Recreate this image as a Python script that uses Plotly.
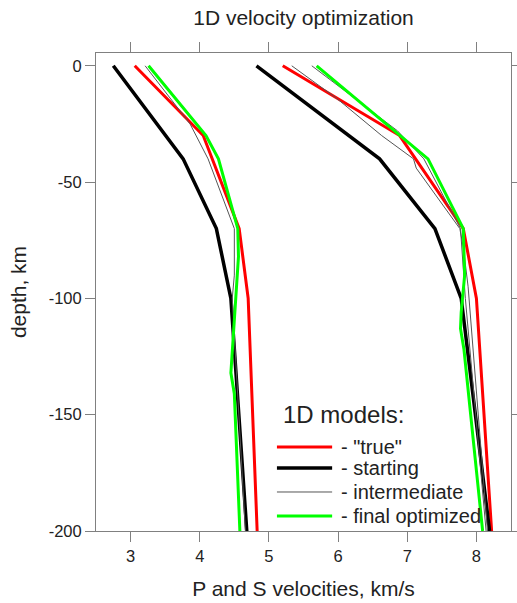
import plotly.graph_objects as go

# ---- data (depth in km, velocities in km/s) ----
true_depth = [0, -30, -70, -100, -200]
true_vs = [3.06, 4.05, 4.57, 4.70, 4.83]
true_vp = [5.20, 6.89, 7.81, 8.00, 8.22]

start_depth = [0, -40, -70, -100, -200]
start_vs = [2.75, 3.76, 4.24, 4.45, 4.68]
start_vp = [4.82, 6.60, 7.40, 7.78, 8.19]

inter_s_depth = [0, -25, -40, -47, -65, -70, -90, -100, -200]
inter_vs = [3.21, 3.86, 4.12, 4.21, 4.44, 4.50, 4.50, 4.47, 4.66]
inter_pa_depth = [0, -14, -30, -40, -44, -70, -78, -95, -200]
inter_vpa = [5.33, 5.98, 6.63, 7.09, 7.13, 7.76, 7.81, 7.88, 8.16]
inter_pb_depth = [0, -28, -40, -70, -100, -200]
inter_vpb = [5.62, 6.86, 7.24, 7.77, 7.84, 8.14]

final_s_depth = [0, -30, -40, -70, -82, -101, -121, -132, -141, -200]
final_vs = [3.26, 4.09, 4.27, 4.55, 4.56, 4.52, 4.48, 4.45, 4.50, 4.58]
final_p_depth = [0, -40, -70, -90, -106, -113, -122, -200]
final_vp = [5.69, 7.30, 7.81, 7.83, 7.78, 7.77, 7.82, 8.09]

x_ticks = [3, 4, 5, 6, 7, 8]
y_ticks = [0, -50, -100, -150, -200]
y_tick_text = ["0", "-50", "-100", "-150", "-200"]

legend_title = "1D models:"
legend_labels = ['- "true"', "- starting", "- intermediate", "- final optimized"]
legend_colors = ["#ff0000", "#000000", "#555555", "#00ff00"]
legend_widths = [3, 3.5, 1, 3]

FONT = "Arial, Liberation Sans, sans-serif"
TXT = "#222222"


def join(v1, d1, v2, d2):
    return v1 + [None] + v2, d1 + [None] + d2


fig = go.Figure()

x, y = join(true_vs, true_depth, true_vp, true_depth)
fig.add_trace(go.Scatter(x=x, y=y, mode="lines", name=legend_labels[0],
                         line=dict(color=legend_colors[0], width=legend_widths[0])))
x, y = join(start_vs, start_depth, start_vp, start_depth)
fig.add_trace(go.Scatter(x=x, y=y, mode="lines", name=legend_labels[1],
                         line=dict(color=legend_colors[1], width=legend_widths[1])))
x, y = join(inter_vs, inter_s_depth, inter_vpa, inter_pa_depth)
fig.add_trace(go.Scatter(x=x, y=y, mode="lines", name=legend_labels[2],
                         line=dict(color=legend_colors[2], width=legend_widths[2])))
fig.add_trace(go.Scatter(x=inter_vpb, y=inter_pb_depth, mode="lines", name=legend_labels[2],
                         line=dict(color=legend_colors[2], width=legend_widths[2])))
x, y = join(final_vs, final_s_depth, final_vp, final_p_depth)
fig.add_trace(go.Scatter(x=x, y=y, mode="lines", name=legend_labels[3],
                         line=dict(color=legend_colors[3], width=legend_widths[3])))

# ---- legend drawn as a key block (paper coordinates) ----
key_x0, key_x1, key_tx = 0.436, 0.569, 0.5855
key_rows = [0.1757, 0.1318, 0.0816, 0.0314]
annotations = [dict(text=legend_title, x=0.445, y=0.2427, xref="paper", yref="paper",
                    xanchor="left", yanchor="middle", showarrow=False,
                    font=dict(family=FONT, size=24, color=TXT))]
shapes = []
for lab, col, w, ky in zip(legend_labels, legend_colors, legend_widths, key_rows):
    shapes.append(dict(type="line", xref="paper", yref="paper", x0=key_x0, x1=key_x1,
                       y0=ky, y1=ky, line=dict(color=col, width=w)))
    annotations.append(dict(text=lab, x=key_tx, y=ky, xref="paper", yref="paper",
                            xanchor="left", yanchor="middle", showarrow=False,
                            font=dict(family=FONT, size=20, color=TXT)))

axis_common = dict(showline=True, linecolor="#808080", linewidth=1, mirror="allticks",
                   ticks="outside", ticklen=10, tickcolor="#808080", tickwidth=1,
                   showgrid=False, zeroline=False,
                   tickfont=dict(family=FONT, size=16.5, color=TXT))

fig.update_layout(
    width=517, height=603,
    margin=dict(l=96, r=6, t=53, b=72, autoexpand=False),
    paper_bgcolor="white", plot_bgcolor="white",
    showlegend=False,
    title=dict(text="1D velocity optimization", x=0.5, xref="paper", xanchor="center",
               y=1 - 18 / 603, yref="container", yanchor="middle",
               font=dict(family=FONT, size=21, color=TXT)),
    xaxis=dict(range=[2.5, 8.5], tickvals=x_ticks,
               title=dict(text="P and S velocities, km/s", standoff=17,
                          font=dict(family=FONT, size=21, color=TXT)),
               **axis_common),
    yaxis=dict(range=[-200, 5.5], tickvals=y_ticks, ticktext=y_tick_text,
               title=dict(text="depth, km", standoff=16,
                          font=dict(family=FONT, size=21, color=TXT)),
               **axis_common),
    annotations=annotations,
    shapes=shapes,
)

fig.write_html("out.html")
